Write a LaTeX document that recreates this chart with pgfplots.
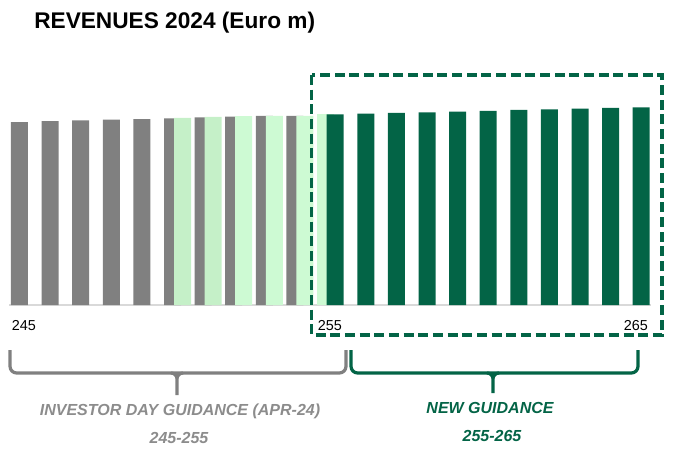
\documentclass[border=0pt]{standalone}
\usepackage{fontspec}
\setmainfont{Liberation Sans}
\usepackage{pgfplots}
\pgfplotsset{compat=1.18}
\definecolor{barGrey}{RGB}{128,128,128}
\definecolor{lightA}{RGB}{197,240,200}
\definecolor{lightB}{RGB}{205,250,211}
\definecolor{darkGreen}{RGB}{3,100,70}
\definecolor{txtGrey}{RGB}{140,140,140}
\definecolor{baseGrey}{RGB}{217,217,217}

\begin{document}
\begin{tikzpicture}
\begin{scope}[x=0.75pt,y=-0.75pt]
  \path[use as bounding box] (0,0) rectangle (679,454);
  \coordinate (O) at (9,305);
\end{scope}

\begin{axis}[
    at={(O)}, anchor=south west,
    scale only axis, width=481.5pt, height=168pt,
    xmin=244.657, xmax=265.637, ymin=0, ymax=300,
    axis y line=none, axis x line*=bottom,
    x axis line style={baseGrey, line width=1.5pt, -},
    xtick={245,255,265}, ytick=\empty,
    major tick length=0pt,
    xticklabel style={anchor=center, xshift=3.2pt, yshift=-15.5pt,
                      font=\fontsize{10.8}{12}\selectfont},
    /pgf/number format/assume math mode=true,
    ybar, bar width=12.75pt, clip=false,
  ]
  % investor day guidance bars
  \addplot[fill=barGrey, draw=none, bar shift=0pt] coordinates {
    (245,245) (246,246.3) (247,247.3) (248,248.2) (249,249.1)
    (250,250.1) (251,251.4) (252,252.2) (253,253.2) (254,253.4)
  };
  % overlap highlight
  \addplot[fill=lightA, draw=none, bar shift=7.5pt] coordinates {
    (250,250.5) (251,251.8)
  };
  \addplot[fill=lightB, draw=none, bar shift=7.5pt] coordinates {
    (252,253.0) (253,253.2) (254,253.4)
  };
  \addplot[fill=lightB, draw=none, bar shift=0pt] coordinates {
    (255,255.8)
  };
  % new guidance bars
  \addplot[fill=darkGreen, draw=none, bar shift=7.3pt] coordinates {
    (255,255.4) (256,256.2) (257,257.2) (258,258.1) (259,258.9)
    (260,259.9) (261,261.2) (262,262.1) (263,262.9) (264,263.9) (265,264.8)
  };
\end{axis}

\begin{scope}[x=0.75pt,y=-0.75pt]
  \node[anchor=base west, inner sep=0,
        font=\bfseries\fontsize{17}{20}\selectfont] at (34,28.3)
        {REVENUES 2024 (Euro m)};
  % dashed frame round the new range
  \draw[darkGreen, line width=2.4pt, dash pattern=on 7.5pt off 3.5pt]
        (311.5,75) rectangle (662,335);
  % braces
  \draw[barGrey, line width=2.4pt, rounded corners=5pt]
        (10,350) -- (10,373) -- (346,373) -- (346,350);
  \draw[barGrey, line width=2.4pt]
        (171,373) to[out=0,in=90] (177,379) -- (177,395)
        (183,373) to[out=180,in=90] (177,379);
  \draw[darkGreen, line width=2.4pt, rounded corners=5pt]
        (351,350) -- (351,373) -- (638,373) -- (638,350);
  \draw[darkGreen, line width=2.4pt]
        (487,373) to[out=0,in=90] (493,379) -- (493,393)
        (499,373) to[out=180,in=90] (493,379);
  % captions
  \node[txtGrey, font=\bfseries\itshape\fontsize{12}{14}\selectfont]
        at (180,411) {INVESTOR DAY GUIDANCE (APR-24)};
  \node[txtGrey, font=\bfseries\itshape\fontsize{12}{14}\selectfont]
        at (179,438) {245-255};
  \node[darkGreen, font=\bfseries\itshape\fontsize{12}{14}\selectfont]
        at (490,408) {NEW GUIDANCE};
  \node[darkGreen, font=\bfseries\itshape\fontsize{12}{14}\selectfont]
        at (492,436) {255-265};
\end{scope}
\end{tikzpicture}
\end{document}
